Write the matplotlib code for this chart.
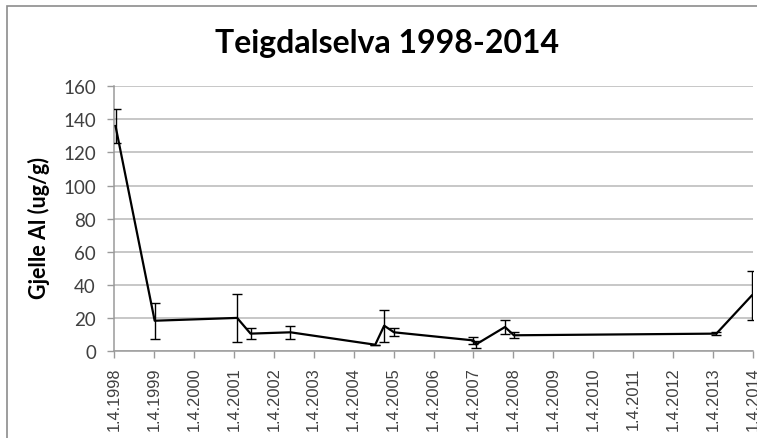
import matplotlib
matplotlib.use("Agg")
import matplotlib.pyplot as plt
from matplotlib.patches import Rectangle
import pandas as pd


# sampling dates, gill Al means and error bar half-widths
dates = ["1998-04-15", "1999-04-08", "2001-05-01", "2001-09-01", "2002-09-01",
         "2004-10-15", "2005-01-05", "2005-04-05", "2007-04-01", "2007-04-25",
         "2008-01-15", "2008-04-05", "2013-05-01", "2014-03-20"]
values = [136, 18.3, 20, 10.5, 11.3, 3.8, 15.3, 11.3, 6.4, 4.0, 14.5, 9.5, 10.5, 33.5]
errors = [10, 11, 14.3, 3.3, 4, 0, 9.6, 2.5, 2.3, 2.0, 4, 1.8, 1, 14.7]

tick_years = list(range(1998, 2015))
tick_labels = ["1.4.%d" % y for y in tick_years]
y_ticks = [0, 20, 40, 60, 80, 100, 120, 140, 160]

W, H = 757, 439
fig = plt.figure(figsize=(W / 100, H / 100), dpi=100)
fig.patch.set_facecolor("white")

# chart area border (runs off the right/bottom edge like the source)
fig.patches.append(Rectangle((7 / W, -0.1), 1.2, 1 - 7 / H + 0.1, transform=fig.transFigure,
                             fill=False, edgecolor="#8c8c8c", linewidth=1.2))

ax = fig.add_axes([114 / W, 1 - 352 / H, (753 - 114) / W, (352 - 87.3) / H])

x = pd.to_datetime(dates)
ax.errorbar(x, values, yerr=errors, color="black", linewidth=1.6, elinewidth=1.0,
            capsize=3.6, capthick=1.0, zorder=3)

tick_dates = pd.to_datetime(["%d-04-01" % y for y in tick_years])
ax.set_xticks(tick_dates)
ax.set_xticklabels(tick_labels, rotation=90, fontsize=11.8, family="Liberation Sans", color="#404040")
ax.set_xlim(tick_dates[0], tick_dates[-1])

ax.set_ylim(0, 160)
ax.set_yticks(y_ticks)
ax.set_yticklabels([str(v) for v in y_ticks], fontsize=13.5, family="Lato", color="#404040")

ax.yaxis.grid(True, color="#b8b8b8", linewidth=1.1)
ax.set_axisbelow(True)
for s in ["top", "right"]:
    ax.spines[s].set_visible(False)
for s in ["left", "bottom"]:
    ax.spines[s].set_color("#9a9a9a")
    ax.spines[s].set_linewidth(1.1)
ax.tick_params(axis="both", color="#9a9a9a", length=5, width=1.0, direction="out")
ax.tick_params(axis="y", pad=8)
ax.tick_params(axis="x", pad=6)

ax.set_ylabel("Gjelle Al (ug/g)", fontsize=15.5, family="Lato", fontweight="bold")
ax.yaxis.set_label_coords((50 - 114) / 639, (352 - 228) / 264.7)

fig.text(387 / W, 1 - 43 / H, "Teigdalselva 1998-2014", ha="center", va="center",
         fontsize=23, family="Lato", fontweight="bold")

fig.savefig("out.png", dpi=100)
